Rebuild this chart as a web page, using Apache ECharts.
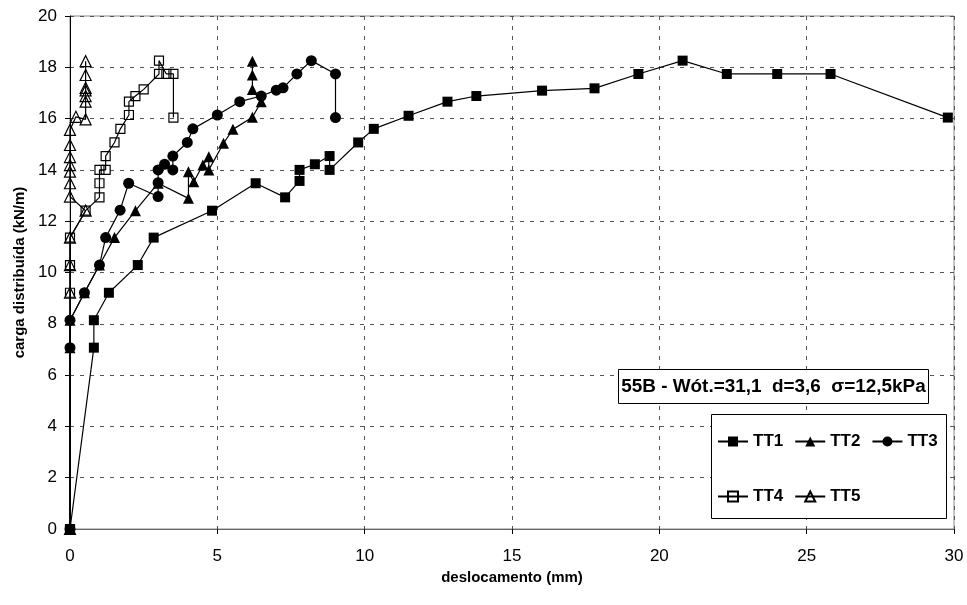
<!DOCTYPE html>
<html>
<head>
<meta charset="utf-8">
<script src="https://cdn.jsdelivr.net/npm/echarts@6/dist/echarts.min.js"></script>
<style>
  html, body { margin: 0; padding: 0; background: #fff; }
  #chart { width: 967px; height: 605px; }
</style>
</head>
<body>
<div id="chart"></div>
<script>
// Load-displacement curves, test 55B
const seriesNames = ['TT1', 'TT2', 'TT3', 'TT4', 'TT5'];

const tt1X = [0, 0.81, 0.81, 1.32, 2.30, 2.84, 4.82, 6.30, 7.30, 7.79, 7.79, 8.31, 8.81, 8.81, 9.78, 10.31, 11.49, 12.81, 13.79, 16.02, 17.80, 19.29, 20.79, 22.29, 24.00, 25.81, 29.79];
const tt1Y = [0, 7.07, 8.14, 9.21, 10.29, 11.36, 12.41, 13.48, 12.93, 13.57, 14.00, 14.22, 14.54, 14.00, 15.07, 15.60, 16.11, 16.66, 16.88, 17.09, 17.18, 17.74, 18.26, 17.74, 17.74, 17.74, 16.04];

const tt2X = [0, 0, 0, 0.49, 1.00, 1.51, 2.22, 2.99, 4.02, 4.02, 4.20, 4.51, 4.71, 4.71, 5.21, 5.53, 6.19, 6.49, 6.19, 6.19, 6.19];
const tt2Y = [0, 7.07, 8.14, 9.21, 10.29, 11.36, 12.41, 13.48, 12.89, 13.93, 13.54, 14.19, 14.51, 14.00, 15.04, 15.58, 16.05, 16.66, 17.13, 17.70, 18.24];

const tt3X = [0, 0, 0, 0.49, 1.00, 1.21, 1.70, 1.99, 2.99, 2.99, 2.99, 3.21, 3.49, 3.49, 3.98, 4.17, 5.00, 5.76, 6.49, 7.00, 7.23, 7.70, 8.19, 9.01, 9.01];
const tt3Y = [0, 7.07, 8.14, 9.21, 10.29, 11.36, 12.43, 13.48, 12.96, 13.50, 14.00, 14.22, 14.00, 14.54, 15.07, 15.60, 16.14, 16.66, 16.88, 17.11, 17.20, 17.74, 18.26, 17.74, 16.04];

const tt4X = [0, 0, 0, 0, 0.53, 1.00, 1.00, 1.00, 1.21, 1.21, 1.51, 1.71, 2.00, 2.00, 2.22, 2.50, 3.02, 3.02, 3.27, 3.51, 3.51];
const tt4Y = [0, 9.21, 10.29, 11.36, 12.41, 12.93, 13.48, 14.00, 14.00, 14.54, 15.07, 15.60, 16.14, 16.66, 16.88, 17.14, 17.74, 18.26, 17.74, 17.74, 16.04];

const tt5X = [0, 0, 0, 0, 0.53, 0, 0, 0, 0, 0, 0, 0, 0.20, 0.53, 0.53, 0.53, 0.53, 0.53, 0.53, 0.53];
const tt5Y = [0, 9.21, 10.29, 11.36, 12.41, 12.96, 13.48, 13.93, 14.19, 14.50, 14.97, 15.56, 16.07, 15.97, 16.66, 16.88, 17.10, 17.20, 17.70, 18.24];

const xTicks = { min: 0, max: 30, step: 5 };
const yTicks = { min: 0, max: 20, step: 2 };

const annotationText = '55B - Wót.=31,1  d=3,6  σ=12,5kPa';
const xTitle = 'deslocamento (mm)';
const yTitle = 'carga distribuída (kN/m)';

const FONT = '"Liberation Sans", Arial, Helvetica, sans-serif';

function pairs(xs, ys) {
  return xs.map((x, i) => [x, ys[i]]);
}

// marker shape per test: filled for TT1-TT3, hollow for TT4-TT5
const markerStyles = [
  { symbol: 'rect', size: 10, fill: '#000' },
  { symbol: 'triangle', size: 11, fill: '#000' },
  { symbol: 'circle', size: 11, fill: '#000' },
  { symbol: 'rect', size: 9, fill: 'rgba(0,0,0,0)' },
  { symbol: 'triangle', size: 11, fill: 'rgba(0,0,0,0)' }
];

const allData = [pairs(tt1X, tt1Y), pairs(tt2X, tt2Y), pairs(tt3X, tt3Y), pairs(tt4X, tt4Y), pairs(tt5X, tt5Y)];

const series = seriesNames.map((name, i) => ({
  name: name,
  type: 'line',
  data: allData[i],
  symbol: markerStyles[i].symbol,
  symbolSize: markerStyles[i].size,
  showAllSymbol: true,
  animation: false,
  z: 2 + i * 0.01,
  lineStyle: { color: '#000', width: 1.2 },
  itemStyle: { color: markerStyles[i].fill, borderColor: '#000', borderWidth: i >= 3 ? 1.2 : 0 },
  emphasis: { disabled: true }
}));

const gridDash = { type: [4, 6], color: '#555', width: 1 };
const legendText = { fontFamily: FONT, fontWeight: 'bold', fontSize: 17, color: '#000' };

const chart = echarts.init(document.getElementById('chart'), null, { renderer: 'canvas' });
chart.setOption({
  backgroundColor: '#fff',
  animation: false,
  textStyle: { fontFamily: FONT },
  grid: {
    left: 70, right: 13, top: 16, bottom: 76,
    show: true, borderColor: '#888', borderWidth: 1,
    outerBoundsMode: 'none'
  },
  xAxis: {
    type: 'value',
    min: xTicks.min, max: xTicks.max, interval: xTicks.step,
    name: xTitle, nameLocation: 'middle', nameGap: 37,
    nameTextStyle: { fontFamily: FONT, fontWeight: 'bold', fontSize: 15, color: '#000' },
    axisLine: { show: true, lineStyle: { color: '#666', width: 1 } },
    axisTick: { show: true, inside: false, length: 5, lineStyle: { color: '#000' } },
    axisLabel: { fontFamily: FONT, fontSize: 17, color: '#000', margin: 19 },
    splitLine: { show: true, lineStyle: gridDash }
  },
  yAxis: {
    type: 'value',
    min: yTicks.min, max: yTicks.max, interval: yTicks.step,
    name: yTitle, nameLocation: 'middle', nameGap: 37,
    nameTextStyle: { fontFamily: FONT, fontWeight: 'bold', fontSize: 15, color: '#000' },
    axisLine: { show: true, lineStyle: { color: '#000', width: 1 } },
    axisTick: { show: true, inside: false, length: 5, lineStyle: { color: '#000' } },
    axisLabel: { fontFamily: FONT, fontSize: 17, color: '#000', margin: 13 },
    splitLine: { show: true, lineStyle: gridDash }
  },
  legend: [
    {
      data: seriesNames.slice(0, 3),
      left: 712, top: 428, padding: 5,
      orient: 'horizontal',
      itemWidth: 30, itemHeight: 12.5, itemGap: 11,
      selectedMode: false, z: 6,
      textStyle: legendText
    },
    {
      data: seriesNames.slice(3),
      left: 712, top: 483, padding: 5,
      orient: 'horizontal',
      itemWidth: 30, itemHeight: 12.5, itemGap: 11,
      selectedMode: false, z: 6,
      textStyle: legendText
    }
  ],
  graphic: [
    {
      type: 'rect', z: 5,
      shape: { x: 711.5, y: 414.5, width: 235, height: 104 },
      style: { fill: '#fff', stroke: '#000', lineWidth: 1 }
    },
    {
      type: 'rect', z: 5,
      shape: { x: 618.5, y: 369.5, width: 310, height: 34 },
      style: { fill: '#fff', stroke: '#000', lineWidth: 1 }
    },
    {
      type: 'text', z: 6,
      x: 773.5, y: 387, scaleX: 1.08,
      style: {
        text: annotationText,
        font: 'bold 17.5px ' + FONT,
        fill: '#000',
        align: 'center',
        verticalAlign: 'middle'
      }
    }
  ],
  series: series
});
</script>
</body>
</html>
